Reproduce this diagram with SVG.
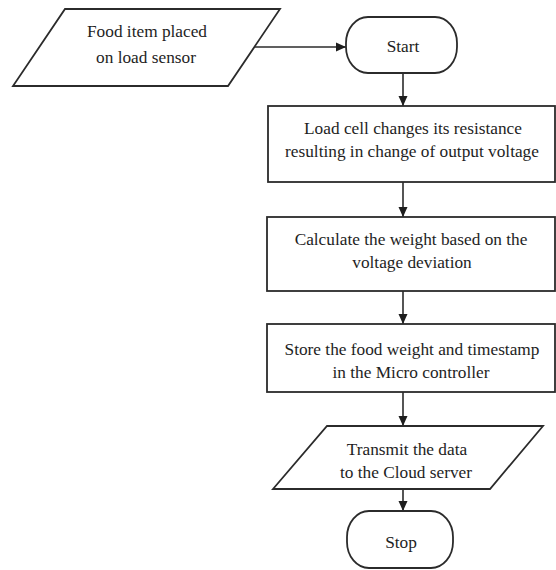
<svg xmlns="http://www.w3.org/2000/svg" width="556" height="570" viewBox="0 0 556 570">
<defs>
<style>
.shape{fill:#ffffff;stroke:#2b2b2b;stroke-width:1.8}
.conn{fill:none;stroke:#2b2b2b;stroke-width:1.6}
.lbl{font-family:"Liberation Serif","Times New Roman",serif;font-size:17.3px;fill:#1e1e1e;text-anchor:middle}
</style>
<marker id="arr" markerUnits="userSpaceOnUse" markerWidth="11" markerHeight="10" refX="10" refY="5" orient="auto">
<path d="M0,0.5 L10,5 L0,9.5 Z" fill="#1e1e1e"/>
</marker>
</defs>
<rect width="556" height="570" fill="#ffffff"/>
<g id="connectors">
<line class="conn" x1="254" y1="47" x2="346" y2="47" marker-end="url(#arr)"/>
<line class="conn" x1="403" y1="73" x2="403" y2="106" marker-end="url(#arr)"/>
<line class="conn" x1="403" y1="182" x2="403" y2="217" marker-end="url(#arr)"/>
<line class="conn" x1="403" y1="291" x2="403" y2="324" marker-end="url(#arr)"/>
<line class="conn" x1="403" y1="392" x2="403" y2="426" marker-end="url(#arr)"/>
<line class="conn" x1="403" y1="489" x2="403" y2="511" marker-end="url(#arr)"/>
</g>
<g id="input-food">
<polygon class="shape" points="65,9 280,9 228,86 13,86"/>
<text class="lbl" x="147" y="37">Food item placed</text>
<text class="lbl" x="146" y="63">on load sensor</text>
</g>
<g id="start">
<rect class="shape" x="346" y="17" width="111" height="56" rx="22" ry="26"/>
<text class="lbl" x="403" y="52">Start</text>
</g>
<g id="load-cell">
<rect class="shape" x="268" y="106" width="287" height="76"/>
<text class="lbl" x="413" y="134">Load cell changes its resistance</text>
<text class="lbl" x="412" y="157">resulting in change of output voltage</text>
</g>
<g id="calculate">
<rect class="shape" x="267" y="217" width="288" height="74"/>
<text class="lbl" x="411" y="245">Calculate the weight based on the</text>
<text class="lbl" x="412" y="268">voltage deviation</text>
</g>
<g id="store">
<rect class="shape" x="267" y="324" width="288" height="68"/>
<text class="lbl" x="412" y="355">Store the food weight and timestamp</text>
<text class="lbl" x="411" y="378">in the Micro controller</text>
</g>
<g id="transmit">
<polygon class="shape" points="327,426 543,426 490,489 273,489"/>
<text class="lbl" x="407" y="455">Transmit the data</text>
<text class="lbl" x="406" y="478">to the Cloud server</text>
</g>
<g id="stop">
<rect class="shape" x="347" y="511" width="106" height="57" rx="22" ry="26"/>
<text class="lbl" x="401" y="548">Stop</text>
</g>
</svg>
